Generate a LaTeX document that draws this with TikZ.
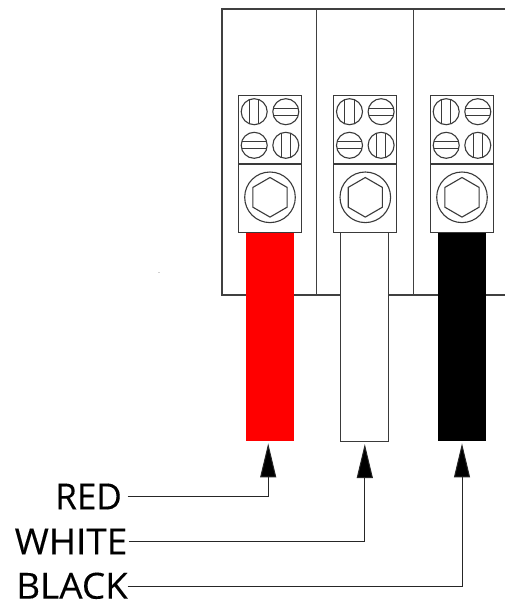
\documentclass[tikz,border=0pt]{standalone}
\usepackage{fontspec}
\setmainfont{Open Sans}
\newfontfamily\narrowlab[FakeStretch=0.97,FakeBold=0.2]{Open Sans}
\newfontfamily\widelab[FakeStretch=1.025,FakeBold=0.2]{Open Sans}
\usetikzlibrary{arrows.meta,calc}
\definecolor{linegray}{HTML}{3A3A3A}
\definecolor{panelgray}{HTML}{404040}
\tikzset{
  panel/.style={draw=panelgray,line width=1.05pt,fill=white},
  termline/.style={draw=linegray,line width=1.1pt},
  wirebox/.style={rectangle,inner sep=0pt,minimum width=48pt,minimum height=208pt,anchor=north},
  wirelabel/.style={anchor=east,inner ysep=0pt,inner xsep=0pt,text=black},
  leader/.style={draw=black!85,line width=1pt,-{Triangle[length=34pt,width=16pt,fill=black]}},
  pics/screwv/.style={code={
    \draw[termline] (0,0) circle (13);
    \draw[termline] (-4.7,-12.1) -- (-4.7,12.1) (4.7,-12.1) -- (4.7,12.1);
  }},
  pics/screwh/.style={code={
    \draw[termline] (0,0) circle (13);
    \draw[termline] (-12.1,-3.6) -- (12.1,-3.6) (-12.1,3.6) -- (12.1,3.6);
  }},
  pics/terminal/.style={code={
    \draw[termline,fill=white] (-31.5,95.7) rectangle (31.5,232.5);
    \draw[termline] (-31.5,164) -- (31.5,164);
    \path (-15.8,111.7) pic {screwv} (15.8,111.7) pic {screwh}
          (-15.8,145.3) pic {screwh} (15.8,145.3) pic {screwv};
    \draw[termline] (0,197.3) circle (25.3);
    \draw[termline] (0,177.5) -- (17.1,187.4) -- (17.1,207.2) -- (0,217.1)
       -- (-17.1,207.2) -- (-17.1,187.4) -- cycle;
  }}
}
\begin{document}
\begin{tikzpicture}[x=1pt,y=-1pt]
\useasboundingbox (0,0) rectangle (505,600);
% enclosure
\draw[panel] (505,9) -- (222,9) -- (222,295) -- (505,295);
\draw[panel] (316.7,9) -- (316.7,295);
\draw[panel] (413.7,9) -- (413.7,295);
% faint speck
\fill[black!18] (157.5,271.6) rectangle (159.5,272.6);
% wires
\node[wirebox,fill=red] (wireR) at (270.2,233) {};
\node[wirebox,fill=white,draw=linegray,line width=1pt,minimum height=213pt] (wireW) at (364.8,228) {};
\node[wirebox,fill=black] (wireB) at (462,233) {};
% terminals
\path (270,0) pic {terminal} (365.3,0) pic {terminal} (462,0) pic {terminal};
% labels
\node[wirelabel,font=\narrowlab\fontsize{36}{36}\selectfont] (labR) at (122,496.5) {RED};
\node[wirelabel,font=\widelab\fontsize{36}{36}\selectfont] (labW) at (127.5,541.5) {WHITE};
\node[wirelabel,font=\widelab\fontsize{36}{36}\selectfont] (labB) at (128,585.8) {BLACK};
\coordinate (startR) at (127.5,496.7);
\coordinate (startW) at (128.5,541.7);
\coordinate (startB) at (127.5,586);
\coordinate (tipR) at ($(wireR.south)+(-2,2)$);
\coordinate (tipW) at ($(wireW.south)+(0,2)$);
\coordinate (tipB) at ($(wireB.south)+(0,2)$);
\draw[leader] (startR) -| (tipR);
\draw[leader] (startW) -| (tipW);
\draw[leader] (startB) -| (tipB);
\end{tikzpicture}
\end{document}
